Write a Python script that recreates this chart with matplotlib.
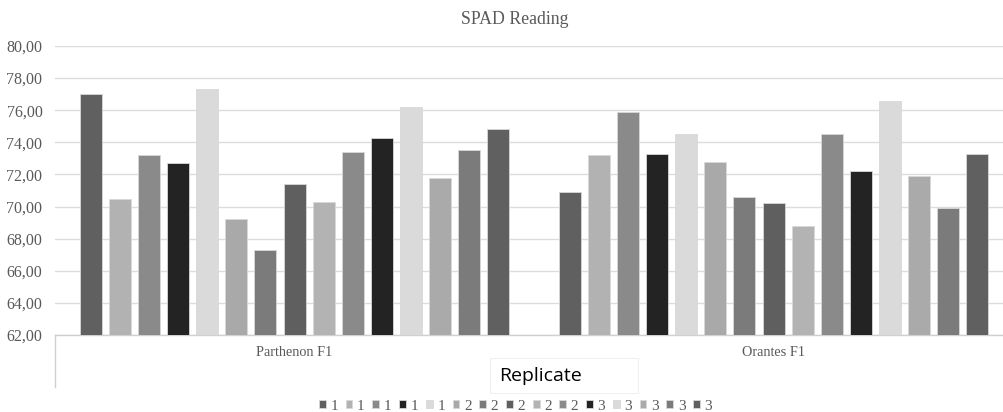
import matplotlib.pyplot as plt
import matplotlib.transforms as mtransforms
from matplotlib.patches import Rectangle
import numpy as np

# SPAD readings, one value per replicate bar, per hybrid
groups = ["Parthenon F1", "Orantes F1"]
replicates = ["1", "1", "1", "1", "1", "2", "2", "2", "2", "2", "3", "3", "3", "3", "3"]
parthenon = [77.0, 70.5, 73.2, 72.7, 77.3, 69.2, 67.3, 71.4, 70.3, 73.4, 74.3, 76.2, 71.8, 73.5, 74.8]
orantes = [70.9, 73.2, 75.9, 73.3, 74.5, 72.8, 70.6, 70.2, 68.8, 74.5, 72.2, 76.6, 71.9, 69.9, 73.3]
yticks = np.arange(62, 81, 2)

colors = ["#606060", "#b2b2b2", "#8a8a8a", "#232323", "#dadada",
          "#a9a9a9", "#7b7b7b", "#5f5f5f", "#b3b3b3", "#8a8a8a",
          "#232323", "#dadada", "#aaaaaa", "#7b7b7b", "#606060"]

serif = "Liberation Serif"
gray_txt = "#595959"

fig = plt.figure(figsize=(10.04, 4.12), dpi=100)
ax = fig.add_axes([55 / 1004, 1 - 335 / 412, 949 / 1004, 289 / 412])

pitch = 29.07 / 479
width = 22 / 479
data = np.array([parthenon, orantes])
for k in range(len(replicates)):
    xs = np.arange(len(groups)) + (k - 7) * pitch
    ax.bar(xs, data[:, k], width=width, color=colors[k],
           edgecolor="#d8d8d8", linewidth=0.6, label=replicates[k], zorder=3)

ax.set_ylim(62, 80)
ax.set_xlim(-0.5, (1004 - 294.5) / 479)
ax.set_yticks(yticks)
ax.set_yticklabels([f"{v:.2f}".replace(".", ",") for v in yticks],
                   family=serif, fontsize=11.5, color=gray_txt)
ax.set_xticks([])
ax.tick_params(axis="y", length=0, pad=9)
ax.grid(axis="y", color="#dcdcdc", linewidth=1, zorder=0)
for s in ["top", "right", "left"]:
    ax.spines[s].set_visible(False)
ax.spines["bottom"].set_color("#d0d0d0")
ax.spines["bottom"].set_linewidth(1)

# category labels and the left divider of the category axis
trans = mtransforms.blended_transform_factory(ax.transData, fig.transFigure)
for i, g in enumerate(groups):
    ax.text(i, 1 - 352 / 412, g, transform=trans, ha="center", va="center",
            family=serif, fontsize=10.3, color=gray_txt)
fig.add_artist(plt.Line2D([55.5 / 1004, 55.5 / 1004], [1 - 335 / 412, 1 - 387 / 412],
                          color="#d0d0d0", linewidth=1))

fig.text(0.513, 1 - 20 / 412, "SPAD Reading", ha="center", va="center",
         family=serif, fontsize=12.8, color=gray_txt)

# axis title box
fig.add_artist(Rectangle((490 / 1004, 1 - 393 / 412), 148 / 1004, 35 / 412,
                         transform=fig.transFigure, facecolor="white",
                         edgecolor="#f0f0f0", linewidth=0.8))
fig.text(541 / 1004, 1 - 376 / 412, "Replicate", ha="center", va="center",
         family="Open Sans", fontsize=14, color="black")

leg = fig.legend(loc="center", bbox_to_anchor=(515.5 / 1004, 1 - 406 / 412), ncol=15,
                 frameon=False, handlelength=0.45, handleheight=0.45, handletextpad=0.3,
                 columnspacing=0.5, prop={"family": serif, "size": 11})
for t in leg.get_texts():
    t.set_color(gray_txt)

fig.savefig("out.png", dpi=100)
